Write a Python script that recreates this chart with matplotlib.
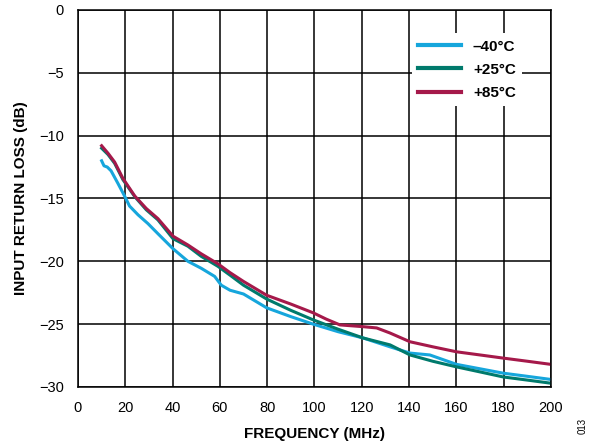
import matplotlib
matplotlib.use("Agg")
import matplotlib.pyplot as plt

plt.rcParams["font.family"] = ["Liberation Sans", "DejaVu Sans"]

# curves (frequency in MHz, return loss in dB)
freq_m40 = [10, 11, 12.4, 14, 16.9, 19.7, 21.8, 25.4, 29.6, 33.8, 40.2, 46.5, 52.1, 57.8,
            60.6, 64.3, 70, 79.8, 90, 99.5, 110, 120.6, 131.9, 140.4, 148.8, 160.1, 170,
            179.8, 190, 200]
loss_m40 = [-12.0, -12.4, -12.5, -12.8, -13.8, -14.8, -15.6, -16.3, -17.0, -17.8, -19.0,
            -20.0, -20.55, -21.2, -21.9, -22.3, -22.6, -23.7, -24.4, -25.0, -25.6, -26.1,
            -26.8, -27.3, -27.45, -28.2, -28.55, -28.9, -29.15, -29.4]

freq_p25 = [10, 12.7, 15.5, 19, 24, 28.9, 33.8, 40.2, 46.5, 52.1, 59.2, 64.3, 70, 79.8,
            90, 99.5, 110, 120.6, 132, 140.4, 150, 160.1, 170, 179.8, 190, 200]
loss_p25 = [-11.0, -11.5, -12.2, -13.5, -14.85, -15.9, -16.7, -18.2, -18.8, -19.6, -20.4,
            -21.1, -21.9, -23.0, -23.9, -24.66, -25.4, -26.1, -26.65, -27.45, -27.95,
            -28.4, -28.8, -29.2, -29.45, -29.7]

freq_p85 = [10, 12.7, 15.5, 19, 24, 28.9, 33.8, 40.2, 46.5, 52.1, 59.2, 64.3, 70, 79.8,
            90, 99.5, 105, 110.8, 120.6, 126.3, 131.9, 140.4, 150, 160.1, 170, 179.8, 190,
            200]
loss_p85 = [-10.8, -11.4, -12.1, -13.4, -14.8, -15.8, -16.6, -18.0, -18.7, -19.4, -20.2,
            -20.9, -21.6, -22.7, -23.4, -24.1, -24.6, -25.06, -25.2, -25.3, -25.7, -26.4,
            -26.8, -27.2, -27.45, -27.7, -27.95, -28.2]

labels = ["\u201340\u00b0C", "+25\u00b0C", "+85\u00b0C"]
colors = ["#16a6dc", "#007a6c", "#a5194a"]

fig = plt.figure(figsize=(5.93, 4.46), dpi=100)
ax = fig.add_axes([0.1315, 0.1323, 0.7975, 0.8453])

ax.plot(freq_m40, loss_m40, color=colors[0], lw=2.2, label=labels[0])
ax.plot(freq_p25, loss_p25, color=colors[1], lw=2.2, label=labels[1])
ax.plot(freq_p85, loss_p85, color=colors[2], lw=2.2, label=labels[2])

ax.set_xlim(0, 200)
ax.set_ylim(-30, 0)
ax.set_xticks(range(0, 201, 20))
ax.set_yticks(range(-30, 1, 5))
ax.grid(True, color="black", lw=1.1)
ax.tick_params(axis="x", length=0, labelsize=10.5, pad=10)
ax.tick_params(axis="y", length=0, labelsize=10.5, pad=10)
for s in ax.spines.values():
    s.set_color("black")
    s.set_linewidth(1.1)

ax.set_xlabel("FREQUENCY (MHz)", fontsize=11, fontweight="bold", labelpad=9)
ax.set_ylabel("INPUT RETURN LOSS (dB)", fontsize=11, fontweight="bold", labelpad=8)

leg = ax.legend(loc="upper right", bbox_to_anchor=(0.955, 0.958), frameon=True,
                fancybox=False, edgecolor="none", facecolor="white", framealpha=1,
                prop={"weight": "bold", "size": 11}, handlelength=2.8,
                labelspacing=0.6, borderpad=0.4)
leg.get_frame().set_linewidth(0)
for line in leg.get_lines():
    line.set_linewidth(3)

fig.text(0.983, 0.045, "013", rotation=90, fontsize=7, ha="center", va="center")

plt.savefig("out.png", dpi=100)
